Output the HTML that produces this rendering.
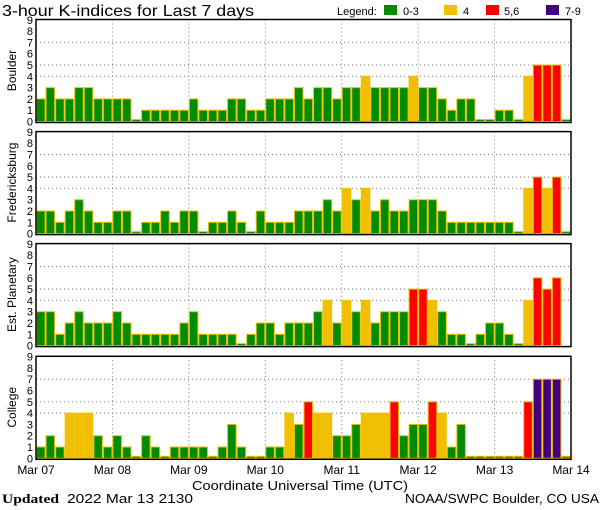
<!DOCTYPE html>
<html><head><meta charset="utf-8"><style>
body{margin:0;background:#fff;}
svg{display:block;font-family:"Liberation Sans",sans-serif;}
</style></head><body>
<svg id="s" width="600" height="510" xmlns="http://www.w3.org/2000/svg">
<text x="2" y="16" font-size="16" textLength="252" lengthAdjust="spacingAndGlyphs">3-hour K-indices for Last 7 days</text>
<text x="337" y="15" font-size="11">Legend:</text>
<rect x="384" y="5" width="13" height="10" fill="#008c00"/><text x="403" y="15" font-size="11">0-3</text>
<rect x="444" y="5" width="13" height="10" fill="#f0c000"/><text x="463" y="15" font-size="11">4</text>
<rect x="486" y="5" width="13" height="10" fill="#ff0000"/><text x="504" y="15" font-size="11">5,6</text>
<rect x="546" y="5" width="13" height="10" fill="#400080"/><text x="565" y="15" font-size="11">7-9</text>
<text x="192" y="490" font-size="13" textLength="216" lengthAdjust="spacingAndGlyphs">Coordinate Universal Time (UTC)</text>
<text x="2" y="503" font-size="13" font-family="Liberation Serif,serif" font-weight="bold" textLength="57" lengthAdjust="spacingAndGlyphs">Updated</text>
<text x="67" y="503" font-size="13" textLength="126" lengthAdjust="spacingAndGlyphs">2022 Mar 13 2130</text>
<text x="405" y="503" font-size="13" textLength="194" lengthAdjust="spacingAndGlyphs">NOAA/SWPC Boulder, CO USA</text>
</svg>
<script>
var s=document.getElementById('s'),NS='http://www.w3.org/2000/svg';
function el(t,a,txt){var e=document.createElementNS(NS,t);for(var k in a)e.setAttribute(k,a[k]);if(txt!=null)e.textContent=txt;s.appendChild(e);return e;}
var data=[
["Boulder",121.5,[2,3,2,2,3,3,2,2, 2,2,0,1,1,1,1,1, 2,1,1,1,2,2,1,1, 2,2,2,3,2,3,3,2, 3,3,4,3,3,3,3,4, 3,3,2,1,2,2,0,0, 1,1,0,4,5,5,5,0]],
["Fredericksburg",233.6,[2,2,1,2,3,2,1,1, 2,2,0,1,1,2,1,2, 2,0,1,1,2,1,0,2, 1,1,1,2,2,2,3,2, 4,3,4,2,3,2,2,3, 3,3,2,1,1,1,1,1, 1,1,0,4,5,4,5,0]],
["Est. Planetary",345.6,[3,3,1,2,3,2,2,2, 3,2,1,1,1,1,1,2, 3,1,1,1,1,0,1,2, 2,1,2,2,2,3,4,2, 4,3,4,2,3,3,3,5, 5,4,3,1,1,0,1,2, 2,1,0,4,6,5,6,-1]],
["College",458.3,[1,2,1,4,4,4,2,1, 2,1,0,2,1,0,1,1, 1,1,0,1,3,1,0,0, 1,1,4,3,5,4,4,2, 2,3,4,4,4,5,2,3, 3,5,4,1,3,0,0,0, 0,0,0,5,7,7,7,0]]];
var X0=36,X1=571,U=11.3,bw=(X1-X0)/56;
data.forEach(function(p){
 var z=p[1],top=z-102;
 [4,5,7].forEach(function(v){el('line',{x1:X0,x2:X1,y1:z-v*U,y2:z-v*U,stroke:'#777','stroke-dasharray':'1 3'});});
 for(var d=1;d<7;d++){var x=X0+d*(X1-X0)/7;el('line',{x1:x,x2:x,y1:top,y2:z,stroke:'#777','stroke-dasharray':'1 3'});}
 p[2].forEach(function(v,i){if(v<0)return;var c=v<=3?'#008c00':v==4?'#f0c000':v<=6?'#ff0000':'#400080';
  var h=v==0?2:v*U;el('rect',{x:X0+i*bw+0.5,y:z-h,width:bw-1,height:h,fill:c,stroke:'#f0c000','stroke-width':1});});
 el('rect',{x:X0,y:top,width:X1-X0,height:z-top+1,fill:'none',stroke:'#000','stroke-width':1.5});
 for(var v=0;v<=9;v++)el('text',{x:33,y:z-v*U+4,'font-size':11,'text-anchor':'end'},v);
 el('text',{transform:'translate(16,'+(z-51)+') rotate(-90)','font-size':12,'text-anchor':'middle'},p[0]);
});
["Mar 07","Mar 08","Mar 09","Mar 10","Mar 11","Mar 12","Mar 13","Mar 14"].forEach(function(t,d){
 el('text',{x:X0+d*(X1-X0)/7,y:474,'font-size':12,'text-anchor':'middle'},t);});
</script>
</body></html>
